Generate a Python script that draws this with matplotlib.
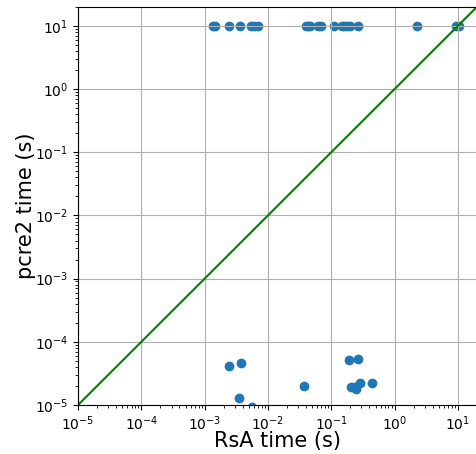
import numpy as np
import matplotlib
matplotlib.use("Agg")
import matplotlib.pyplot as plt

# timed-out runs are plotted at 10 s for pcre2
rsa_slow = [1.33e-3, 1.45e-3, 2.45e-3, 3.6e-3, 5.3e-3, 6.0e-3, 6.9e-3,
            0.040, 0.043, 0.046, 0.062, 0.068, 0.11, 0.15, 0.16, 0.18,
            0.20, 0.26, 2.25, 9.4, 10.5]
pcre_slow = [10.0] * len(rsa_slow)

rsa_fast = [2.45e-3, 3.7e-3, 3.5e-3, 5.65e-3, 0.0374, 0.188, 0.267,
            0.202, 0.225, 0.245, 0.287, 0.439]
pcre_fast = [4.2e-5, 4.6e-5, 1.3e-5, 9.3e-6, 2.0e-5, 5.2e-5, 5.4e-5,
             1.95e-5, 1.9e-5, 1.8e-5, 2.2e-5, 2.2e-5]

lims = [1e-5, 20]

rsa = np.array(rsa_slow + rsa_fast)
pcre = np.array(pcre_slow + pcre_fast)

fig = plt.figure(figsize=(4.76, 4.54), dpi=100)
ax = fig.add_axes([0.164, 0.108, 0.838, 0.877])

ax.scatter(rsa, pcre)
ax.plot(lims, lims, color='green')
ax.set_xscale('log')
ax.set_yscale('log')
ax.set_xlim(lims)
ax.set_ylim(lims)
ax.grid(True)
ax.set_xlabel("RsA time (s)", fontsize=15, labelpad=-2)
ax.set_ylabel("pcre2 time (s)", fontsize=15, labelpad=-1)

fig.savefig("out.png", dpi=100)
